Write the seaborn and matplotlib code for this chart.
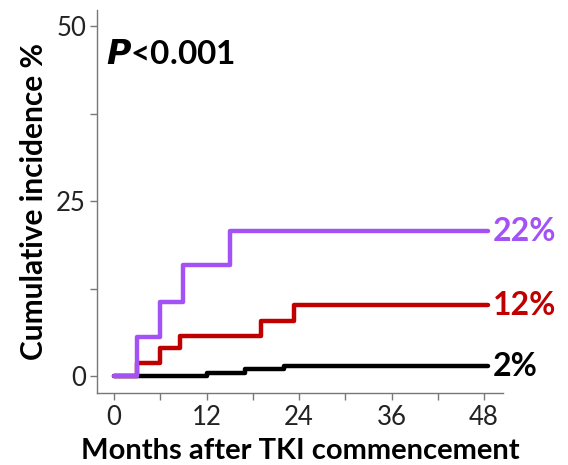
import pandas as pd
import seaborn as sns
import matplotlib.pyplot as plt
from matplotlib.ticker import MultipleLocator

# ---------- Data ----------
black_t = [0, 12, 17, 22, 48.5]
black_y = [0, 0.4, 1.0, 1.4, 1.4]
red_t = [0, 3, 6, 8.5, 19, 23.3, 48.5]
red_y = [0, 1.9, 4.0, 5.7, 7.9, 10.1, 10.1]
purple_t = [0, 3, 6, 9, 15, 48.5]
purple_y = [0, 5.6, 10.6, 15.9, 20.7, 20.7]

groups = ["black", "red", "purple"]
end_labels = ["2%", "12%", "22%"]
colors = {"black": "#000000", "red": "#C00000", "purple": "#A352F5"}

rows = []
for g, t, y in zip(groups, [black_t, red_t, purple_t], [black_y, red_y, purple_y]):
    for ti, yi in zip(t, y):
        rows.append({"month": ti, "inc": yi, "group": g})
df = pd.DataFrame(rows)

sns.set_style("white")
plt.rcParams['font.family'] = ['Lato', 'DejaVu Sans']
plt.rcParams['text.color'] = 'black'
plt.rcParams['axes.labelcolor'] = 'black'
plt.rcParams['xtick.labelcolor'] = '#222222'
plt.rcParams['ytick.labelcolor'] = '#222222'

fig = plt.figure(figsize=(5.68, 4.65), dpi=100)
ax = fig.add_axes([0.171, 0.155, 0.715, 0.823])

sns.lineplot(data=df, x="month", y="inc", hue="group", hue_order=groups,
             palette=colors, estimator=None, sort=False, drawstyle="steps-post",
             linewidth=3.2, legend=False, ax=ax)

ax.set_xlim(-2.2, 50.5)
ax.set_ylim(-2.4, 52.3)
ax.set_xticks([0, 12, 24, 36, 48])
ax.set_yticks([0, 25, 50])
ax.xaxis.set_minor_locator(MultipleLocator(6))
ax.yaxis.set_minor_locator(MultipleLocator(12.5))
ax.tick_params(which="both", direction="out", color="#777777", length=5, width=1,
               bottom=True, left=True)
ax.tick_params(which="major", labelsize=18.5, labelcolor="#222222")
ax.tick_params(axis="y", which="major", pad=3)
ax.tick_params(axis="x", which="major", pad=4)
for s in ["top", "right"]:
    ax.spines[s].set_visible(False)
for s in ["left", "bottom"]:
    ax.spines[s].set_color("#777777")
    ax.spines[s].set_linewidth(1)

ax.set_xlabel("Months after TKI commencement", fontsize=21, fontweight="bold",
              va="center", color="black")
ax.xaxis.set_label_coords(0.5, -0.152)
ax.set_ylabel("Cumulative incidence %", fontsize=21.5, fontweight="bold",
              labelpad=6, color="black")

ax.text(-1, 46, r"$\bfit{P}$<0.001", fontsize=24, fontweight="bold",
        va="center", ha="left", color="black")

for g, lab, y in zip(groups, end_labels, [black_y, red_y, purple_y]):
    ax.text(49.2, y[-1], lab, color=colors[g], fontsize=23, fontweight="bold",
            va="center", ha="left", clip_on=False)

fig.savefig("out.png", dpi=100)
